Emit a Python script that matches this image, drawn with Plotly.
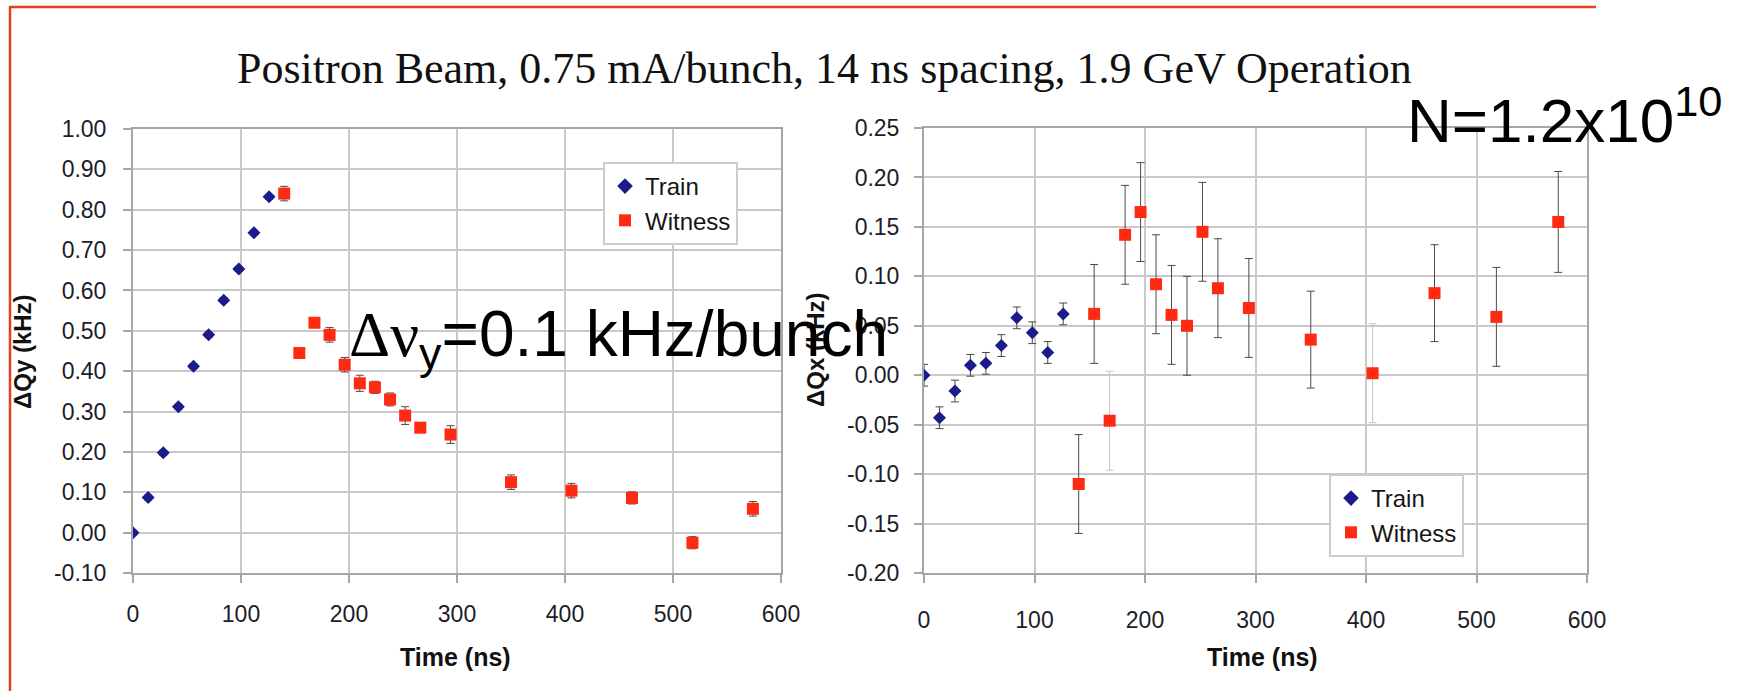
import plotly.graph_objects as go

# ---- data -------------------------------------------------------------
train_t = [0, 14, 28, 42, 56, 70, 84, 98, 112, 126]
witness_t = [140, 154, 168, 182, 196, 210, 224, 238, 252, 266, 294, 350, 406, 462, 518, 574]

# vertical tune shift (kHz)
train_dqy = [0.000, 0.087, 0.198, 0.312, 0.412, 0.490, 0.576, 0.653, 0.743, 0.832]
train_dqy_err = [0.006, 0.006, 0.006, 0.006, 0.006, 0.006, 0.006, 0.006, 0.006, 0.006]
witness_dqy = [0.840, 0.445, 0.520, 0.490, 0.416, 0.370, 0.360, 0.330, 0.290, 0.260,
               0.243, 0.125, 0.104, 0.086, -0.025, 0.059]
witness_dqy_err = [0.018, 0.012, 0.012, 0.018, 0.018, 0.020, 0.015, 0.016, 0.022, 0.012,
                   0.022, 0.018, 0.018, 0.015, 0.015, 0.018]

# horizontal tune shift (kHz)
train_dqx = [0.000, -0.043, -0.016, 0.010, 0.012, 0.030, 0.058, 0.043, 0.023, 0.062]
train_dqx_err = [0.011, 0.011, 0.011, 0.011, 0.011, 0.011, 0.011, 0.011, 0.011, 0.011]
witness_dqx = [-0.110, 0.062, -0.046, 0.142, 0.165, 0.092, 0.061, 0.050, 0.145, 0.088,
               0.068, 0.036, 0.002, 0.083, 0.059, 0.155]
witness_dqx_err = [0.050, 0.050, 0.050, 0.050, 0.050, 0.050, 0.050, 0.050, 0.050, 0.050,
                   0.050, 0.049, 0.050, 0.049, 0.050, 0.051]
# points whose error bars are drawn in a pale grey
pale_idx = [2, 12]

# ---- tick labels ------------------------------------------------------
x_ticks = [0, 100, 200, 300, 400, 500, 600]
x_tick_labels = ["0", "100", "200", "300", "400", "500", "600"]
y_left_ticks = [-0.10, 0.00, 0.10, 0.20, 0.30, 0.40, 0.50, 0.60, 0.70, 0.80, 0.90, 1.00]
y_left_labels = ["-0.10", "0.00", "0.10", "0.20", "0.30", "0.40", "0.50", "0.60",
                 "0.70", "0.80", "0.90", "1.00"]
y_right_ticks = [-0.20, -0.15, -0.10, -0.05, 0.00, 0.05, 0.10, 0.15, 0.20, 0.25]
y_right_labels = ["-0.20", "-0.15", "-0.10", "-0.05", "0.00", "0.05", "0.10", "0.15",
                  "0.20", "0.25"]

# ---- page geometry ----------------------------------------------------
W, H = 1740, 691


def px(x):
    return x / W


def py(y):
    return 1 - y / H


NAVY = "#1b1b8c"
RED = "#ff2a12"
ERR = "#4a4a4a"
PALE = "#c6c6c6"
GRID = "#c9c9c9"
AXIS = "#a6a6a6"
SANS = "Liberation Sans, Arial, sans-serif"
TICKFONT = dict(family=SANS, size=23, color="#1c1c2a")

fig = go.Figure()

# left panel: ΔQy
fig.add_trace(go.Scatter(
    x=train_t, y=train_dqy, mode="markers", name="Train",
    marker=dict(symbol="diamond", size=10, color=NAVY),
    error_y=dict(type="data", array=train_dqy_err, color=ERR, thickness=1, width=4),
    xaxis="x", yaxis="y", legend="legend"))
fig.add_trace(go.Scatter(
    x=witness_t, y=witness_dqy, mode="markers", name="Witness",
    marker=dict(symbol="square", size=12, color=RED),
    error_y=dict(type="data", array=witness_dqy_err, color=ERR, thickness=1, width=4),
    xaxis="x", yaxis="y", legend="legend"))

# right panel: ΔQx
fig.add_trace(go.Scatter(
    x=train_t, y=train_dqx, mode="markers", name="Train",
    marker=dict(symbol="diamond", size=10, color=NAVY),
    error_y=dict(type="data", array=train_dqx_err, color=ERR, thickness=1, width=4),
    xaxis="x2", yaxis="y2", legend="legend2"))

pale_t = [witness_t[i] for i in pale_idx]
pale_y = [witness_dqx[i] for i in pale_idx]
pale_err = [witness_dqx_err[i] for i in pale_idx]
fig.add_trace(go.Scatter(
    x=pale_t, y=pale_y, mode="markers", showlegend=False, hoverinfo="skip",
    marker=dict(size=1, opacity=0),
    error_y=dict(type="data", array=pale_err, color=PALE, thickness=1, width=4),
    xaxis="x2", yaxis="y2"))

dark_err = [0 if i in pale_idx else e for i, e in enumerate(witness_dqx_err)]
fig.add_trace(go.Scatter(
    x=witness_t, y=witness_dqx, mode="markers", name="Witness",
    marker=dict(symbol="square", size=12, color=RED),
    error_y=dict(type="data", array=dark_err, color=ERR, thickness=1, width=4),
    xaxis="x2", yaxis="y2", legend="legend2"))


def xaxis_style(domain, anchor, standoff):
    return dict(domain=domain, anchor=anchor, range=[0, 600], automargin=False,
                tickmode="array", tickvals=x_ticks, ticktext=x_tick_labels,
                showgrid=True, gridcolor=GRID, gridwidth=2, zeroline=False,
                showline=True, linecolor=AXIS, linewidth=2, mirror=True,
                ticks="outside", ticklen=8, tickwidth=2, tickcolor=AXIS,
                tickfont=TICKFONT, ticklabelstandoff=standoff)


def yaxis_style(domain, anchor, rng, vals, labels, standoff):
    return dict(domain=domain, anchor=anchor, range=rng, automargin=False,
                tickmode="array", tickvals=vals, ticktext=labels,
                showgrid=True, gridcolor=GRID, gridwidth=2, zeroline=False,
                showline=True, linecolor=AXIS, linewidth=2, mirror=True,
                ticks="outside", ticklen=8, tickwidth=2, tickcolor=AXIS,
                tickfont=TICKFONT, ticklabelstandoff=standoff)


legend_common = dict(xanchor="left", yanchor="top", bgcolor="white",
                     bordercolor="#cccccc", borderwidth=2,
                     font=dict(family=SANS, size=24, color="#151515"),
                     itemsizing="constant", tracegroupgap=2)

annotations = [
    dict(text="Positron Beam, 0.75 mA/bunch, 14 ns spacing, 1.9 GeV Operation",
         x=px(824), y=py(68), xanchor="center", yanchor="middle",
         font=dict(family="Liberation Serif, Times New Roman, serif", size=44, color="#111111")),
    dict(text="Time (ns)", x=px(455), y=py(657), xanchor="center", yanchor="middle",
         font=dict(family=SANS, size=25, color="#111111", weight="bold")),
    dict(text="Time (ns)", x=px(1262), y=py(657), xanchor="center", yanchor="middle",
         font=dict(family=SANS, size=25, color="#111111", weight="bold")),
    dict(text="ΔQy (kHz)", x=px(23), y=py(352), xanchor="center", yanchor="middle", textangle=-90,
         font=dict(family=SANS, size=24, color="#111111", weight="bold")),
    dict(text="ΔQx (kHz)", x=px(815), y=py(350), xanchor="center", yanchor="middle", textangle=-90,
         font=dict(family=SANS, size=24, color="#111111", weight="bold")),
    dict(text="<span style='font-family:Liberation Serif'>Δν</span><sub>y</sub>=0.1 kHz/bunch",
         x=px(347), y=py(338), xanchor="left", yanchor="middle",
         font=dict(family=SANS, size=64, color="#000000")),
    dict(text="N=1.2x10<sup>10</sup>",
         x=px(1405), y=py(116), xanchor="left", yanchor="middle",
         font=dict(family=SANS, size=62, color="#000000")),
]
for a in annotations:
    a.update(xref="paper", yref="paper", showarrow=False)

FRAME = "#e4421f"
shapes = [
    dict(type="line", xref="paper", yref="paper", x0=px(10), x1=px(10), y0=py(7), y1=py(H),
         line=dict(color=FRAME, width=2.5)),
    dict(type="line", xref="paper", yref="paper", x0=px(9), x1=px(1596), y0=py(7), y1=py(7),
         line=dict(color=FRAME, width=2.5)),
]

fig.update_layout(
    width=W, height=H,
    margin=dict(l=0, r=0, t=0, b=0, pad=0, autoexpand=False),
    paper_bgcolor="white", plot_bgcolor="white",
    xaxis=xaxis_style([px(133), px(781)], "y", 11),
    yaxis=yaxis_style([py(573), py(129)], "x", [-0.10, 1.00], y_left_ticks, y_left_labels, 12),
    xaxis2=xaxis_style([px(924), px(1587)], "y2", 17),
    yaxis2=yaxis_style([py(573), py(128)], "x2", [-0.20, 0.25], y_right_ticks, y_right_labels, 10),
    legend=dict(x=px(603), y=py(162), **legend_common),
    legend2=dict(x=px(1329), y=py(474), **legend_common),
    annotations=annotations,
    shapes=shapes,
    showlegend=True,
)

fig.write_html("out.html")
